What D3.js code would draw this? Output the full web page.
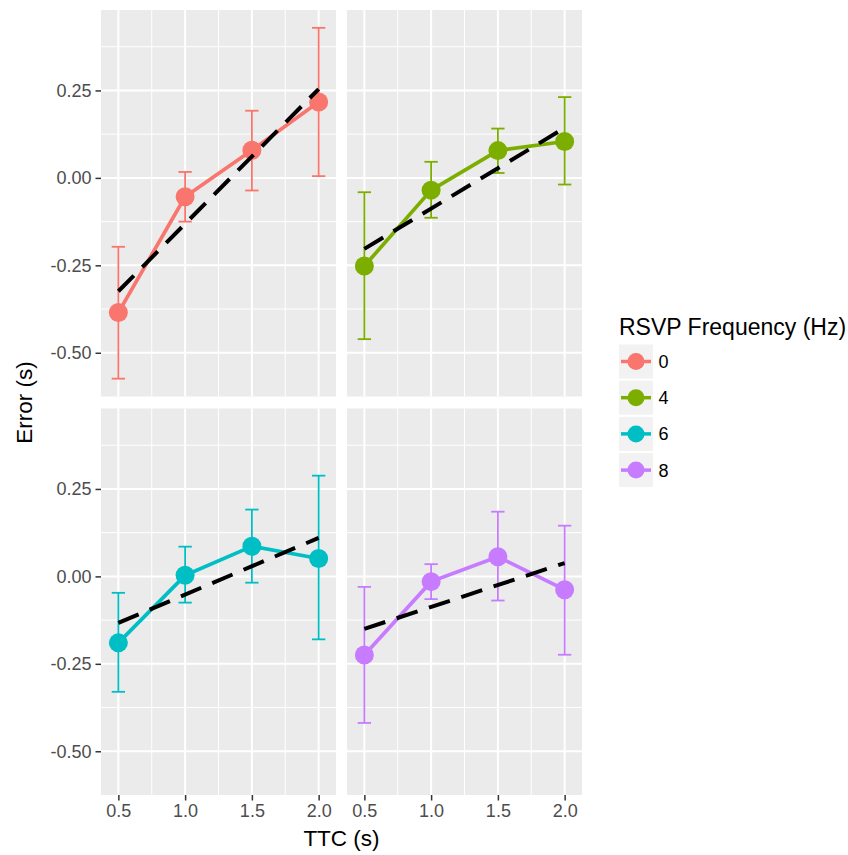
<!DOCTYPE html>
<html>
<head>
<meta charset="utf-8">
<script src="https://cdnjs.cloudflare.com/ajax/libs/d3/7.8.5/d3.min.js"></script>
<style>
  body { margin: 0; background: #fff; }
  svg { display: block; font-family: "Liberation Sans", Arial, sans-serif; }
</style>
</head>
<body>
<svg id="chart" width="848" height="855"></svg>
<script>
// TTC values on the x axis
var ttc = [0.5, 1.0, 1.5, 2.0];
var freqs = ["0", "4", "6", "8"];
var colors = ["#F8766D", "#7CAE00", "#00BFC4", "#C77CFF"];

// mean error per frequency
var mean0 = [-0.385, -0.054, 0.079, 0.217];
var mean4 = [-0.252, -0.035, 0.078, 0.104];
var mean6 = [-0.190, 0.003, 0.086, 0.051];
var mean8 = [-0.225, -0.015, 0.056, -0.038];

// error bar bounds
var low0 = [-0.574, -0.125, -0.036, 0.005];
var high0 = [-0.197, 0.017, 0.192, 0.429];
var low4 = [-0.461, -0.114, 0.014, -0.019];
var high4 = [-0.041, 0.046, 0.141, 0.231];
var low6 = [-0.330, -0.075, -0.018, -0.180];
var high6 = [-0.047, 0.085, 0.191, 0.288];
var low8 = [-0.419, -0.065, -0.069, -0.224];
var high8 = [-0.030, 0.035, 0.185, 0.145];

// linear fit, value at TTC 0.5 and 2.0
var fit0 = [-0.324, 0.254];
var fit4 = [-0.203, 0.143];
var fit6 = [-0.133, 0.110];
var fit8 = [-0.150, 0.038];

var xTicks = [0.5, 1.0, 1.5, 2.0];
var xMinor = [0.75, 1.25, 1.75];
var yTicks = [-0.50, -0.25, 0.00, 0.25];
var yMinor = [-0.375, -0.125, 0.125, 0.375];

var panels = [
  {mean: mean0, low: low0, high: high0, fit: fit0},
  {mean: mean4, low: low4, high: high4, fit: fit4},
  {mean: mean6, low: low6, high: high6, fit: fit6},
  {mean: mean8, low: low8, high: high8, fit: fit8}
];

var svg = d3.select("#chart");

var pw = 235, ph = 386.5;
var colX = [101, 347], rowY = [10, 408.5];

var x = d3.scaleLinear().domain([0.37, 2.13]).range([0, pw]);
var y = d3.scaleLinear().domain([-0.625, 0.48]).range([ph, 0]);

panels.forEach(function(p, k) {
  var col = k % 2, row = Math.floor(k / 2);
  var g = svg.append("g").attr("transform", "translate(" + colX[col] + "," + rowY[row] + ")");
  var color = colors[k];

  g.append("rect").attr("width", pw).attr("height", ph).attr("fill", "#EBEBEB");

  // grid
  g.selectAll(".ymin").data(yMinor).enter().append("line")
    .attr("x1", 0).attr("x2", pw).attr("y1", y).attr("y2", y)
    .attr("stroke", "#fff").attr("stroke-width", 1);
  g.selectAll(".xmin").data(xMinor).enter().append("line")
    .attr("y1", 0).attr("y2", ph).attr("x1", x).attr("x2", x)
    .attr("stroke", "#fff").attr("stroke-width", 1);
  g.selectAll(".ymaj").data(yTicks).enter().append("line")
    .attr("x1", 0).attr("x2", pw).attr("y1", y).attr("y2", y)
    .attr("stroke", "#fff").attr("stroke-width", 2);
  g.selectAll(".xmaj").data(xTicks).enter().append("line")
    .attr("y1", 0).attr("y2", ph).attr("x1", x).attr("x2", x)
    .attr("stroke", "#fff").attr("stroke-width", 2);

  // error bars
  var cap = (x(0.55) - x(0.45)) / 2;
  var eb = g.selectAll(".eb").data(ttc).enter().append("g").attr("stroke", color).attr("stroke-width", 1.8);
  eb.append("line").attr("x1", x).attr("x2", x)
    .attr("y1", function(d, i) { return y(p.low[i]); })
    .attr("y2", function(d, i) { return y(p.high[i]); });
  eb.append("line").attr("x1", function(d) { return x(d) - cap; }).attr("x2", function(d) { return x(d) + cap; })
    .attr("y1", function(d, i) { return y(p.low[i]); }).attr("y2", function(d, i) { return y(p.low[i]); });
  eb.append("line").attr("x1", function(d) { return x(d) - cap; }).attr("x2", function(d) { return x(d) + cap; })
    .attr("y1", function(d, i) { return y(p.high[i]); }).attr("y2", function(d, i) { return y(p.high[i]); });

  // mean line and points
  var line = d3.line().x(function(d) { return x(d); }).y(function(d, i) { return y(p.mean[i]); });
  g.append("path").datum(ttc).attr("d", line).attr("fill", "none")
    .attr("stroke", color).attr("stroke-width", 3.7);
  g.selectAll(".pt").data(ttc).enter().append("circle")
    .attr("cx", x).attr("cy", function(d, i) { return y(p.mean[i]); })
    .attr("r", 9.5).attr("fill", color);

  // fitted dashed line
  g.append("line")
    .attr("x1", x(0.5)).attr("y1", y(p.fit[0]))
    .attr("x2", x(2.0)).attr("y2", y(p.fit[1]))
    .attr("stroke", "#000").attr("stroke-width", 4).attr("stroke-dasharray", "22,12");

  // axes
  if (col == 0) {
    var ya = g.append("g").call(d3.axisLeft(y).tickValues(yTicks).tickSize(5.5).tickPadding(4)
      .tickFormat(function(d) { return d3.format(".2f")(d).replace("−", "-"); }));
    ya.select(".domain").remove();
    ya.selectAll("line").attr("stroke", "#333").attr("stroke-width", 1.5);
    ya.selectAll("text").attr("fill", "#4D4D4D").style("font-size", "18px")
      .style("font-family", "Liberation Sans, Arial, sans-serif");
  }
  if (row == 1) {
    var xa = g.append("g").attr("transform", "translate(0," + ph + ")")
      .call(d3.axisBottom(x).tickValues(xTicks).tickSize(5.5).tickPadding(4).tickFormat(d3.format(".1f")));
    xa.select(".domain").remove();
    xa.selectAll("line").attr("stroke", "#333").attr("stroke-width", 1.5);
    xa.selectAll("text").attr("fill", "#4D4D4D").style("font-size", "18px")
      .style("font-family", "Liberation Sans, Arial, sans-serif");
  }
});

// axis titles
svg.append("text").attr("x", 341.5).attr("y", 846).attr("text-anchor", "middle")
  .style("font-size", "22.5px").text("TTC (s)");
svg.append("text").attr("transform", "translate(32,402.5) rotate(-90)").attr("text-anchor", "middle")
  .style("font-size", "22.5px").text("Error (s)");

// legend
var leg = svg.append("g").attr("transform", "translate(619,0)");
leg.append("text").attr("x", 0).attr("y", 335).style("font-size", "23px").text("RSVP Frequency (Hz)");
var key = leg.selectAll(".key").data(freqs).enter().append("g")
  .attr("transform", function(d, i) { return "translate(0," + (344.5 + i * 36.2) + ")"; });
key.append("rect").attr("width", 34).attr("height", 34).attr("fill", "#F2F2F2");
key.append("line").attr("x1", 2).attr("x2", 32).attr("y1", 17).attr("y2", 17)
  .attr("stroke", function(d, i) { return colors[i]; }).attr("stroke-width", 3.5);
key.append("circle").attr("cx", 17).attr("cy", 17).attr("r", 8.5)
  .attr("fill", function(d, i) { return colors[i]; });
key.append("text").attr("x", 39.5).attr("y", 23.5).style("font-size", "18px").text(function(d) { return d; });
</script>
</body>
</html>
